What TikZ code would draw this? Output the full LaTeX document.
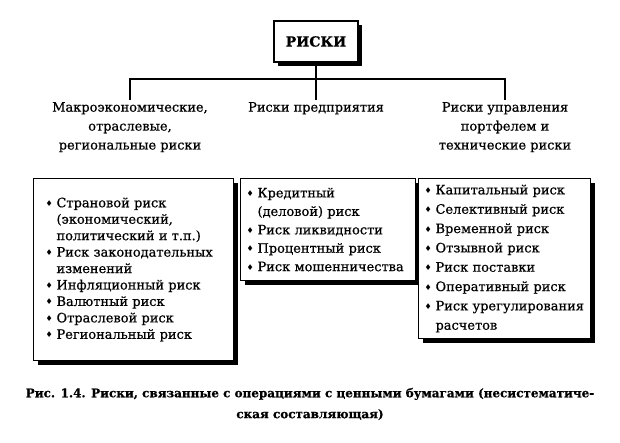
\documentclass[tikz,border=0pt]{standalone}
\usepackage{fontspec}
\setmainfont{DejaVu Serif}[FakeBold=0.6]
\newfontfamily\symfont{DejaVu Sans}
\usetikzlibrary{shadows, positioning}

% list item with a small diamond, and a continued line
\newcommand{\itm}[1]{\makebox[11bp][l]{\symfont\fontsize{8}{8}\selectfont\raisebox{1bp}{♦}}#1}
\newcommand{\cnt}[1]{\hspace*{11bp}#1}

\begin{document}
\begin{tikzpicture}[x=1bp, y=-1bp,
  shbox/.style={draw, line width=1.1bp, fill=white,
    drop shadow={shadow xshift=4bp, shadow yshift=-4bp, fill=black, opacity=1}},
  head/.style={align=center, font=\fontsize{13}{19}\selectfont, anchor=north, inner sep=2bp},
  listbox/.style={shbox, anchor=north west, align=left, inner ysep=0bp}]

  \fill[white] (0,0) rectangle (620,443);

  % top
  \node[shbox, font=\fontsize{14}{14}\selectfont\bfseries, minimum width=84bp, minimum height=41bp] (root) at (316,41.5) {РИСКИ};
  \coordinate (bus) at (316,79);

  % headers
  \node[head] (hmacro) at (130,100) {Макроэкономические,\\отраслевые,\\региональные риски};
  \node[head] (hfirm) at (316,100) {Риски предприятия};
  \node[head] (hport) at (505,100) {Риски управления\\портфелем и\\технические риски};

  \draw[line width=1.1bp] (root) -- (hfirm);
  \draw[line width=1.1bp] (hmacro.north) |- (bus) -| (hport.north);

  % lists
  \node[listbox, text width=176bp, inner xsep=12bp, minimum height=182bp, font=\fontsize{13}{16.5}\selectfont] (lmacro) at (33,178) {%
    \itm{Страновой риск}\\
    \cnt{(экономический,}\\
    \cnt{политический и т.п.)}\\
    \itm{Риск законодательных}\\
    \cnt{изменений}\\
    \itm{Инфляционный риск}\\
    \itm{Валютный риск}\\
    \itm{Отраслевой риск}\\
    \itm{Региональный риск}};

  \node[listbox, text width=163bp, inner xsep=6bp, minimum height=102bp, font=\fontsize{13}{18.5}\selectfont] (lfirm) at (240,178) {%
    \itm{Кредитный}\\
    \cnt{(деловой) риск}\\
    \itm{Риск ликвидности}\\
    \itm{Процентный риск}\\
    \itm{Риск мошенничества}};

  \node[listbox, text width=160bp, inner xsep=6bp, minimum height=160bp, font=\fontsize{13}{19.4}\selectfont] (lport) at (418,178) {%
    \itm{Капитальный риск}\\
    \itm{Селективный риск}\\
    \itm{Временной риск}\\
    \itm{Отзывной риск}\\
    \itm{Риск поставки}\\
    \itm{Оперативный риск}\\
    \itm{Риск урегулирования}\\
    \cnt{расчетов}};

  % caption
  \node[font=\fontsize{12}{21}\selectfont\bfseries, align=center] (caption) at (310,404) {Рис. 1.4. Риски, связанные с операциями с ценными бумагами (несистематиче-\\ская составляющая)};
\end{tikzpicture}
\end{document}
